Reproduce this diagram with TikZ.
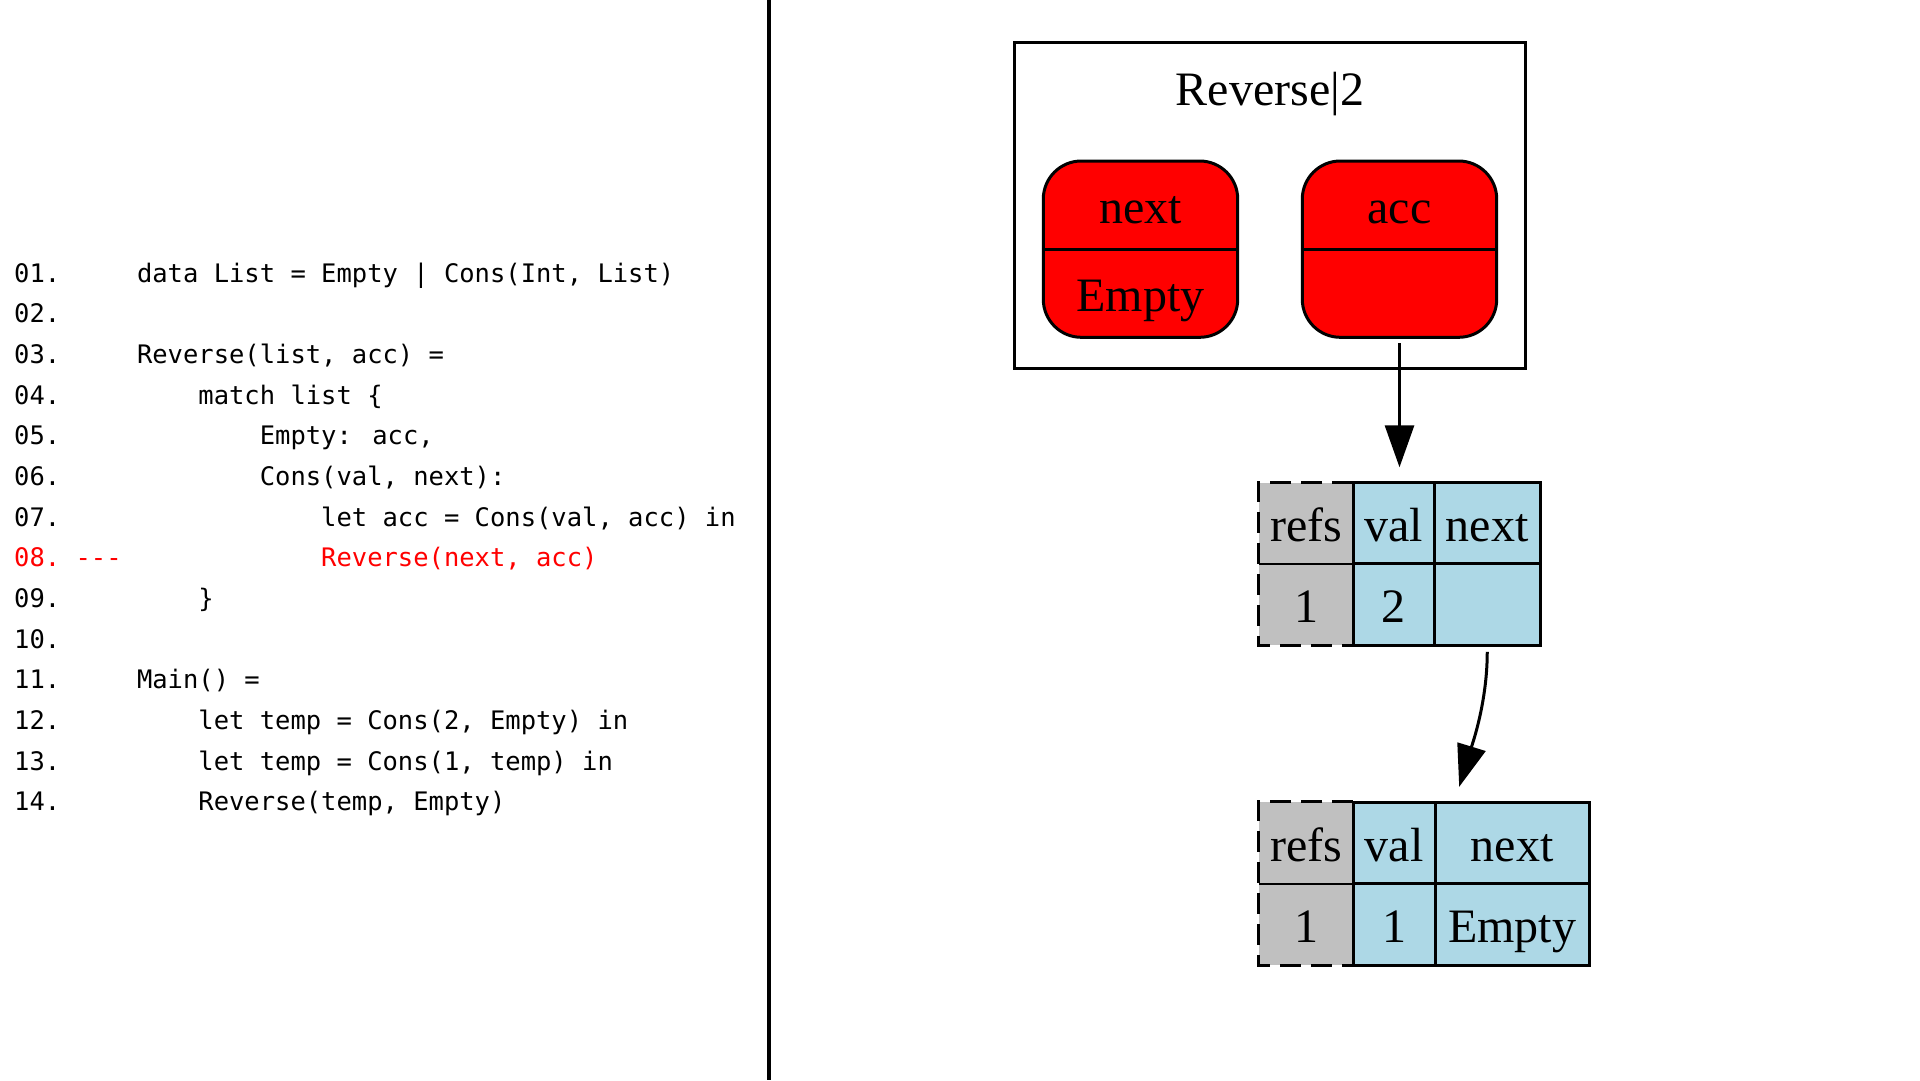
\documentclass[tikz,border=0pt]{standalone}
\usepackage{fontspec}
\setmainfont{Liberation Serif}
\newfontfamily\codefont{DejaVu Sans Mono}
\usetikzlibrary{arrows.meta,calc}
\definecolor{cellblue}{HTML}{ADD8E6}
\definecolor{cellgray}{HTML}{C0C0C0}
\definecolor{hotred}{HTML}{FF0000}
\tikzset{
  codeline/.style={anchor=base west, inner sep=0pt, font=\codefont\fontsize{25.5}{30}\selectfont},
  redline/.style={codeline, text=hotred},
  serif/.style={font=\fontsize{48}{58}\selectfont, inner sep=0pt},
  label48/.style={serif, anchor=base},
  varbox/.style={draw, line width=3pt, fill=hotred, rounded corners=38pt, minimum width=194.4pt, minimum height=176.3pt, inner sep=0pt},
  bluecell/.style={draw, line width=3pt, fill=cellblue, serif, minimum height=81.5pt, text height=36.9pt, text depth=0pt},
  graycell/.style={fill=cellgray, serif, minimum height=81.5pt, minimum width=94pt, text height=36.9pt, text depth=0pt},
  ptr/.style={line width=3pt, -{Triangle[length=42pt,width=29pt]}},
  refsborder/.style={line width=3pt, dash pattern=on 21pt off 10pt},
  framebox/.style={draw, line width=3pt, minimum width=511.4pt, minimum height=325.6pt, inner sep=0pt},
}
\begin{document}
\begin{tikzpicture}[x=1pt, y=-1pt]
\useasboundingbox (0,0) rectangle (1920,1080);

% ---------- code listing ----------
\node[codeline] (n01) at (14,282.3) {01.};
\node[codeline] (c01) at (136.8,282.3) {data List = Empty | Cons(Int, List)};
\node[codeline] (n02) at (14,322.95) {02.};
\node[codeline] (n03) at (14,363.6) {03.};
\node[codeline] (c03) at (136.8,363.6) {Reverse(list, acc) =};
\node[codeline] (n04) at (14,404.25) {04.};
\node[codeline] (c04) at (198.2,404.25) {match list \{};
\node[codeline] (n05) at (14,444.9) {05.};
\node[codeline] (c05) at (259.6,444.9) {Empty: acc,};
\node[codeline] (n06) at (14,485.55) {06.};
\node[codeline] (c06) at (259.6,485.55) {Cons(val, next):};
\node[codeline] (n07) at (14,526.2) {07.};
\node[codeline] (c07) at (321,526.2) {let acc = Cons(val, acc) in};
\node[redline] (n08) at (14,566.85) {08.};
\node[redline] (m08) at (75.4,566.85) {-{}-{}-};
\node[redline] (c08) at (321,566.85) {Reverse(next, acc)};
\node[codeline] (n09) at (14,607.5) {09.};
\node[codeline] (c09) at (198.2,607.5) {\}};
\node[codeline] (n10) at (14,648.15) {10.};
\node[codeline] (n11) at (14,688.8) {11.};
\node[codeline] (c11) at (136.8,688.8) {Main() =};
\node[codeline] (n12) at (14,729.45) {12.};
\node[codeline] (c12) at (198.2,729.45) {let temp = Cons(2, Empty) in};
\node[codeline] (n13) at (14,770.1) {13.};
\node[codeline] (c13) at (198.2,770.1) {let temp = Cons(1, temp) in};
\node[codeline] (n14) at (14,810.75) {14.};
\node[codeline] (c14) at (198.2,810.75) {Reverse(temp, Empty)};

% ---------- divider ----------
\draw[line width=4pt] (768.7,0) -- (768.7,1080);

% ---------- stack frame ----------
\node[framebox] (frame) at (1270,205.5) {};
\node[label48] (title) at (1270,105) {Reverse|2};
\node[varbox] (nextbox) at (1140.5,249.15) {};
\node[varbox] (accbox) at (1399.5,249.15) {};
\draw[line width=3pt] (nextbox.west) -- (nextbox.east);
\draw[line width=3pt] (accbox.west) -- (accbox.east);
\node[label48] (nextname) at (1140.5,223.3) {next};
\node[label48] (nextval) at (1140.5,311.7) {Empty};
\node[label48] (accname) at (1399.5,223.3) {acc};

% ---------- cell 1 ----------
\node[graycell] (t1a) at (1306,523.25) {refs};
\node[graycell] (t1d) at (1306,604.5) {1};
\draw[refsborder] (t1a.north east) -- (t1a.north west) -- (t1d.south west) -- (t1d.south east);
\draw[line width=2pt] (t1a.south west) -- (t1a.south east);
\node[bluecell, minimum width=81.5pt] (t1b) at (1393.75,523.25) {val};
\node[bluecell, minimum width=105.5pt] (t1c) at (1487.25,523.25) {next};
\node[bluecell, minimum width=81.5pt] (t1e) at (1393.75,604.5) {2};
\node[bluecell, minimum width=105.5pt] (t1f) at (1487.25,604.5) {};

% ---------- cell 2 ----------
\node[graycell] (t2a) at (1306,842.75) {refs};
\node[graycell] (t2d) at (1306,924.25) {1};
\draw[refsborder] (t2a.north east) -- (t2a.north west) -- (t2d.south west) -- (t2d.south east);
\draw[line width=2pt] (t2a.south west) -- (t2a.south east);
\node[bluecell, minimum width=82pt] (t2b) at (1394,842.75) {val};
\node[bluecell, minimum width=154pt] (t2c) at (1512,842.75) {next};
\node[bluecell, minimum width=82pt] (t2e) at (1394,924.25) {1};
\node[bluecell, minimum width=154pt] (t2f) at (1512,924.25) {Empty};

% ---------- pointers ----------
\draw[ptr] ([yshift=-4.4pt]accbox.south) -- ([yshift=13.7pt]accbox.south |- t1b.north);
\coordinate (tip2) at ([xshift=25.7pt,yshift=13.7pt]t2c.north west);
\draw[ptr] ([yshift=-5pt]t1f.south) .. controls +(0,50) and +(13.3,-43.3) .. (tip2);
\end{tikzpicture}
\end{document}
